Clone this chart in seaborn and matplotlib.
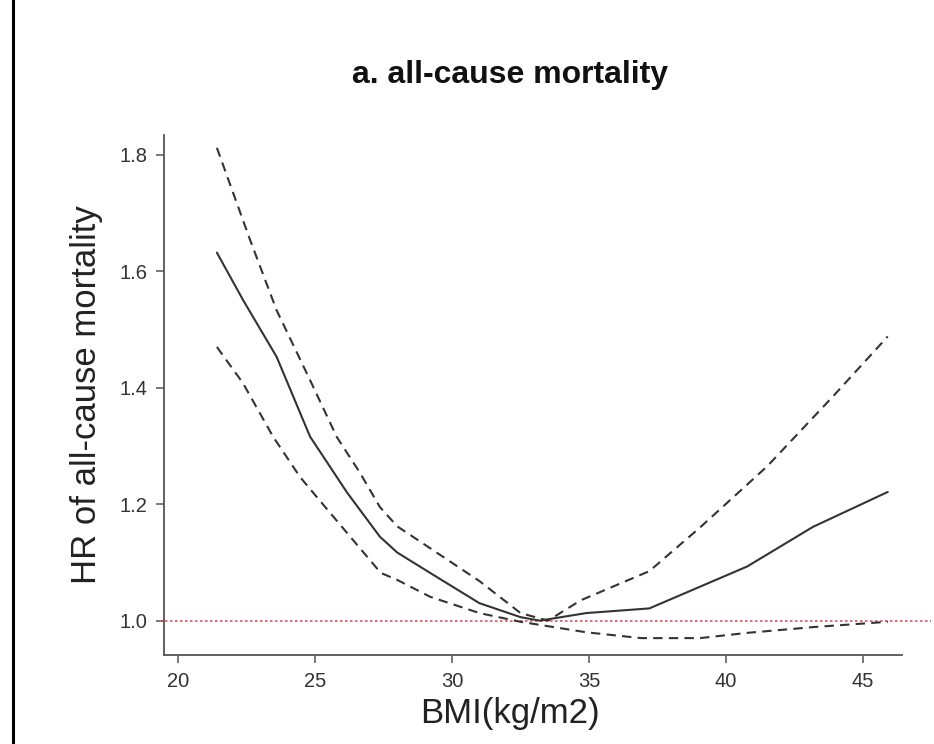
import matplotlib
matplotlib.use("Agg")
import matplotlib.pyplot as plt
import matplotlib.patches as mpatches
import seaborn as sns

# ---- data ----
hr_x = [21.42, 22.37, 23.6, 24.82, 26.17, 27.37, 28.0, 29.2, 31.0, 32.5, 33.2, 34.9, 37.2, 40.77, 43.17, 45.9]
hr_y = [1.632, 1.551, 1.453, 1.316, 1.22, 1.144, 1.117, 1.082, 1.030, 1.006, 1.0, 1.013, 1.021, 1.093, 1.161, 1.221]

upper_x = [21.42, 22.63, 23.6, 24.82, 25.8, 26.64, 27.37, 28.0, 29.5, 31.0, 32.5, 33.5, 34.7, 37.2, 39.05, 41.5, 43.9, 45.9]
upper_y = [1.812, 1.654, 1.533, 1.413, 1.315, 1.254, 1.195, 1.162, 1.115, 1.068, 1.013, 1.0, 1.035, 1.085, 1.16, 1.265, 1.385, 1.488]

lower_x = [21.42, 22.37, 23.47, 24.45, 25.07, 27.4, 28.0, 29.2, 31.0, 32.5, 34.9, 36.9, 39.05, 40.77, 43.2, 45.9]
lower_y = [1.470, 1.408, 1.316, 1.247, 1.212, 1.082, 1.07, 1.041, 1.013, 0.998, 0.98, 0.97, 0.97, 0.979, 0.989, 0.998]

x_ticks = [20, 25, 30, 35, 40, 45]
y_ticks = [1.0, 1.2, 1.4, 1.6, 1.8]
ref_hr = 1.0

title = "a. all-cause mortality"
xlabel = "BMI(kg/m2)"
ylabel = "HR of all-cause mortality"

# ---- style ----
sns.set_theme(style="white")
plt.rcParams["font.family"] = ["Liberation Sans", "DejaVu Sans"]

fig = plt.figure(figsize=(9.34, 7.44), dpi=100)
ax = fig.add_axes([164 / 934, 1 - 655 / 744, (902 - 164) / 934, (655 - 135) / 744])

line_col = "#333333"
sns.lineplot(x=hr_x, y=hr_y, ax=ax, color=line_col, lw=1.5, sort=False)
sns.lineplot(x=upper_x, y=upper_y, ax=ax, color=line_col, lw=1.5, sort=False,
             dashes=False, linestyle=(0, (4.5, 3)))
sns.lineplot(x=lower_x, y=lower_y, ax=ax, color=line_col, lw=1.5, sort=False,
             dashes=False, linestyle=(0, (4.5, 3)))

ax.axhline(ref_hr, xmin=-0.005, xmax=(931 - 164) / (902 - 164), color="#e0505a",
           lw=1.2, linestyle=(0, (1.5, 1.5)), clip_on=False, zorder=1)

ax.set_xlim(19.49, 46.42)
ax.set_ylim(0.941, 1.834)
ax.set_xticks(x_ticks)
ax.set_xticklabels([str(v) for v in x_ticks])
ax.set_yticks(y_ticks)
ax.set_yticklabels([f"{v:.1f}" for v in y_ticks])

for side in ["top", "right"]:
    ax.spines[side].set_visible(False)
for side in ["left", "bottom"]:
    ax.spines[side].set_color("#555555")
    ax.spines[side].set_linewidth(1.3)

ax.tick_params(axis="both", which="major", direction="out", length=6, width=1.1,
               color="#555555", labelsize=14.5, labelcolor="#333333", pad=6,
               bottom=True, left=True)

ax.set_xlabel("")
ax.set_ylabel(ylabel, fontsize=25, color="#222222", labelpad=12)
fig.text(510 / 934, 1 - 713 / 744, xlabel, ha="center", va="center",
         fontsize=25, color="#222222")
fig.text(510 / 934, 1 - 75 / 744, title, ha="center", va="center",
         fontsize=23, fontweight="bold", color="#111111")

# outer frame (left and top edges visible)
frame = mpatches.Rectangle((13 / 934, -0.2), 1.2, 1.2 + 1 - 7 / 744,
                           transform=fig.transFigure, fill=False,
                           edgecolor="black", lw=2.2)
fig.add_artist(frame)

fig.savefig("out.png", dpi=100, facecolor="white")
